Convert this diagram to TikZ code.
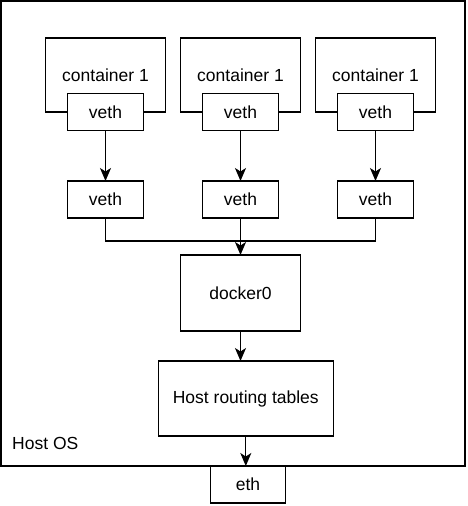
\documentclass[tikz,border=0pt]{standalone}
\usepackage{fontspec}
\setmainfont{Liberation Sans}
\usetikzlibrary{arrows.meta,positioning}
\definecolor{LineClr}{RGB}{0,0,0}

\begin{document}
\begin{tikzpicture}[x=1pt,y=-1pt,
  box/.style={draw=LineClr,line width=1.3pt,fill=white,inner sep=0pt,outer sep=0pt,
    font=\fontsize{17.5}{21}\selectfont},
  link/.style={draw=LineClr,line width=1.3pt},
  arr/.style={link,-{Stealth[length=13pt,width=11pt,inset=3.5pt]}}]
\useasboundingbox (0,0) rectangle (468,506);

\node[box,minimum width=464,minimum height=465] (host) at (233,233.5) {};
\node[anchor=west,inner sep=0pt,font=\fontsize{17.5}{21}\selectfont] (hostlbl) at (12,443) {Host OS};

\node[box,minimum width=120,minimum height=74] (cont1) at (105.5,75) {container 1};
\node[box,minimum width=120,minimum height=74] (cont2) at (240.5,75) {container 1};
\node[box,minimum width=120,minimum height=74] (cont3) at (375.5,75) {container 1};

\node[box,minimum width=76,minimum height=37] (inveth1) at (cont1.south) {veth};
\node[box,minimum width=76,minimum height=37] (inveth2) at (cont2.south) {veth};
\node[box,minimum width=76,minimum height=37] (inveth3) at (cont3.south) {veth};

\node[box,minimum width=76,minimum height=37] (outveth1) at (105.5,199.5) {veth};
\node[box,minimum width=76,minimum height=37] (outveth2) at (240.5,199.5) {veth};
\node[box,minimum width=76,minimum height=37] (outveth3) at (375.5,199.5) {veth};

\node[box,minimum width=120,minimum height=76] (docker) at (240.5,293) {docker0};
\node[box,minimum width=175,minimum height=75] (routing) at (245.8,398.5) {Host routing tables};
\node[box,minimum width=75,minimum height=37] (eth) at (248,484.5) {eth};

\coordinate (bus) at (240.5,241);

\draw[arr] (inveth1) -- (outveth1);
\draw[arr] (inveth2) -- (outveth2);
\draw[arr] (inveth3) -- (outveth3);

\draw[link] (outveth1.south) |- (bus) -| (outveth3.south);
\draw[arr] (outveth2) -- (docker);
\draw[arr] (docker.south) -- (docker.south |- routing.north);
\draw[arr] (routing.south) -- (routing.south |- eth.north);

\end{tikzpicture}
\end{document}
